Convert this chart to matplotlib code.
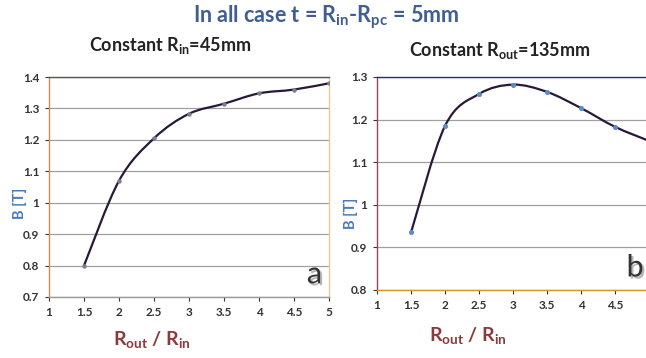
import matplotlib.pyplot as plt
import numpy as np
from matplotlib.path import Path
from matplotlib.patches import PathPatch
import matplotlib.patheffects as pe

plt.rcParams['font.family'] = ['Lato', 'DejaVu Sans']
plt.rcParams['mathtext.fontset'] = 'custom'
plt.rcParams['mathtext.rm'] = 'Lato:bold'
plt.rcParams['mathtext.bf'] = 'Lato:bold'
plt.rcParams['mathtext.it'] = 'Lato:bold'

# data
ratio = [1.5, 2, 2.5, 3, 3.5, 4, 4.5, 5]
b_const_rin = [0.80, 1.07, 1.205, 1.283, 1.315, 1.348, 1.36, 1.38]
b_const_rout = [0.935, 1.185, 1.26, 1.282, 1.265, 1.227, 1.183, 1.15]
xticks = [1, 1.5, 2, 2.5, 3, 3.5, 4, 4.5, 5]
xlab = ['1', '1.5', '2', '2.5', '3', '3.5', '4', '4.5', '5']
yticks_a = [0.7, 0.8, 0.9, 1.0, 1.1, 1.2, 1.3, 1.4]
yticks_b = [0.8, 0.9, 1.0, 1.1, 1.2, 1.3]
ylab_a = ['0.7', '0.8', '0.9', '1', '1.1', '1.2', '1.3', '1.4']
ylab_b = ['0.8', '0.9', '1', '1.1', '1.2', '1.3']


def smooth_path(x, y, t=1/6):
    # Excel-like smoothed line: cubic bezier through the points
    x = np.asarray(x, float); y = np.asarray(y, float)
    verts = [(x[0], y[0])]
    codes = [Path.MOVETO]
    n = len(x)
    for i in range(n - 1):
        p0 = (x[max(i - 1, 0)], y[max(i - 1, 0)])
        p1 = (x[i], y[i])
        p2 = (x[i + 1], y[i + 1])
        p3 = (x[min(i + 2, n - 1)], y[min(i + 2, n - 1)])
        c1 = (p1[0] + (p2[0] - p0[0]) * t, p1[1] + (p2[1] - p0[1]) * t)
        c2 = (p2[0] - (p3[0] - p1[0]) * t, p2[1] - (p3[1] - p1[1]) * t)
        verts += [c1, c2, p2]
        codes += [Path.CURVE4] * 3
    return Path(verts, codes)


def setup(ax, xl, yt, yl, ylim, spines):
    ax.set_xlim(1, 5)
    ax.set_ylim(*ylim)
    ax.set_xticks(xticks)
    ax.set_xticklabels(xl)
    ax.set_yticks(yt)
    ax.set_yticklabels(yl)
    ax.yaxis.grid(True, color='#a0a0a0', lw=0.9)
    ax.set_axisbelow(True)
    ax.tick_params(labelsize=8.5, colors='#333333', length=3, width=0.8, pad=4)
    for lbl in ax.get_xticklabels() + ax.get_yticklabels():
        lbl.set_fontweight('bold')
    for k, c in spines.items():
        ax.spines[k].set_color(c)
        ax.spines[k].set_linewidth(1.0)


shadow = [pe.withSimplePatchShadow(offset=(1.5, -1.5), shadow_rgbFace='#888888', alpha=0.6)]

fig = plt.figure(figsize=(6.46, 3.58), dpi=100)

ax1 = fig.add_axes([0.0759, 0.1704, 0.4334, 0.6145])
setup(ax1, xlab, yticks_a, ylab_a, (0.7, 1.4),
      {'left': '#d08a50', 'top': '#555555', 'right': '#f0c890', 'bottom': '#999999'})
ax1.add_patch(PathPatch(smooth_path(ratio, b_const_rin), fc='none', ec='#2a1838', lw=1.6))
ax1.plot(ratio, b_const_rin, 'o', ms=2.2, color='#7a8090', zorder=3)
ax1.text(0.975, 0.04, 'a', transform=ax1.transAxes, ha='right', va='bottom',
         fontsize=22, color='#333333', path_effects=shadow)

ax2 = fig.add_axes([0.5836, 0.19, 0.421, 0.595])
setup(ax2, xlab[:-1] + [''], yticks_b, ylab_b, (0.8, 1.3),
      {'left': '#a04060', 'top': '#2a2a80', 'right': '#2a2a80', 'bottom': '#e0902a'})
ax2.add_patch(PathPatch(smooth_path(ratio, b_const_rout), fc='none', ec='#2a1838', lw=1.6))
ax2.plot(ratio, b_const_rout, 'o', ms=2.6, color='#5b8cc8', zorder=3)
ax2.text(0.98, 0.04, 'b', transform=ax2.transAxes, ha='right', va='bottom',
         fontsize=22, color='#333333', path_effects=shadow)

# axis labels
fig.text(20 / 646, 1 - 203 / 358, 'B [T]', rotation=90, ha='center', va='center',
         color='#4a7ab8', fontsize=10.5, fontweight='bold')
fig.text(351 / 646, 1 - 213 / 358, 'B [T]', rotation=90, ha='center', va='center',
         color='#4a7ab8', fontsize=10.5, fontweight='bold')
fig.text(152 / 646, 1 - 340 / 358, 'R$_{\\mathbf{out}}$ / R$_{\\mathbf{in}}$',
         ha='center', va='center', color='#8a3a3a', fontsize=14, fontweight='bold')
fig.text(468 / 646, 1 - 336 / 358, 'R$_{\\mathbf{out}}$ / R$_{\\mathbf{in}}$',
         ha='center', va='center', color='#8a3a3a', fontsize=14, fontweight='bold')

fig.text(0.505, 0.953, 'In all case t = R$_{\\mathbf{in}}$-R$_{\\mathbf{pc}}$ = 5mm',
         ha='center', va='center', color='#3f5f94', fontsize=15.5, fontweight='bold')
fig.text(170 / 646, 0.874, 'Constant R$_{\\mathbf{in}}$=45mm', ha='center', va='center',
         color='#222222', fontsize=13, fontweight='bold')
fig.text(500 / 646, 0.86, 'Constant R$_{\\mathbf{out}}$=135mm', ha='center', va='center',
         color='#222222', fontsize=13, fontweight='bold')

fig.savefig('out.png', dpi=100)
